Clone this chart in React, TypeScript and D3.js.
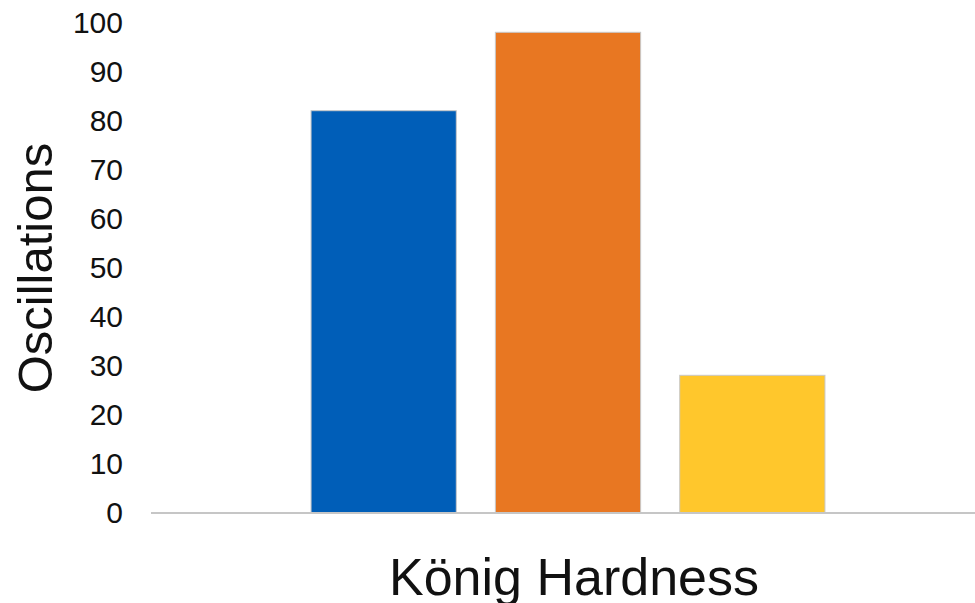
import React from "react";
import * as d3 from "d3";

// Three coating samples measured in one category
const category = "König Hardness";
const seriesNames = ["Series 1", "Series 2", "Series 3"];
const seriesValues = [82, 98, 28];
const seriesColors = ["#005EB8", "#E87722", "#FFC72C"];
const yTicks = [0, 10, 20, 30, 40, 50, 60, 70, 80, 90, 100];
const yTitle = "Oscillations";

const W = 975;
const H = 603;
const FONT = "'Liberation Sans', Arial, sans-serif";

export default function App() {
  const y = d3.scaleLinear().domain([0, 100]).range([512.5, 22.5]);
  const x = d3
    .scaleBand<string>()
    .domain(seriesNames)
    .range([291.5, 844.5])
    .paddingInner(0.212)
    .paddingOuter(0.106);

  const plotLeft = 151;
  const plotRight = W;

  return (
    <svg
      width={W}
      height={H}
      viewBox={`0 0 ${W} ${H}`}
      style={{ position: "fixed", left: 0, top: 0, background: "#fff" }}
    >
      {/* bars */}
      {seriesNames.map((name, i) => (
        <rect
          key={name}
          x={x(name)!}
          y={y(seriesValues[i])}
          width={x.bandwidth()}
          height={y(0) - y(seriesValues[i])}
          fill={seriesColors[i]}
          stroke="#c8c8c8"
          strokeWidth={1}
        />
      ))}

      {/* category axis baseline */}
      <line
        x1={plotLeft}
        x2={plotRight}
        y1={y(0) + 0.5}
        y2={y(0) + 0.5}
        stroke="#c6c6c6"
        strokeWidth={2}
      />

      {/* value axis labels */}
      {yTicks.map((t) => (
        <text
          key={t}
          x={123}
          y={y(t)}
          dy="0.36em"
          textAnchor="end"
          fontFamily={FONT}
          fontSize={30}
          fill="#111"
        >
          {t}
        </text>
      ))}

      {/* axis titles */}
      <text
        transform={`translate(52, 268) rotate(-90)`}
        textAnchor="middle"
        fontFamily={FONT}
        fontSize={49}
        fill="#111"
      >
        {yTitle}
      </text>
      <text
        x={574}
        y={595}
        textAnchor="middle"
        fontFamily={FONT}
        fontSize={52}
        fill="#111"
      >
        {category}
      </text>
    </svg>
  );
}
